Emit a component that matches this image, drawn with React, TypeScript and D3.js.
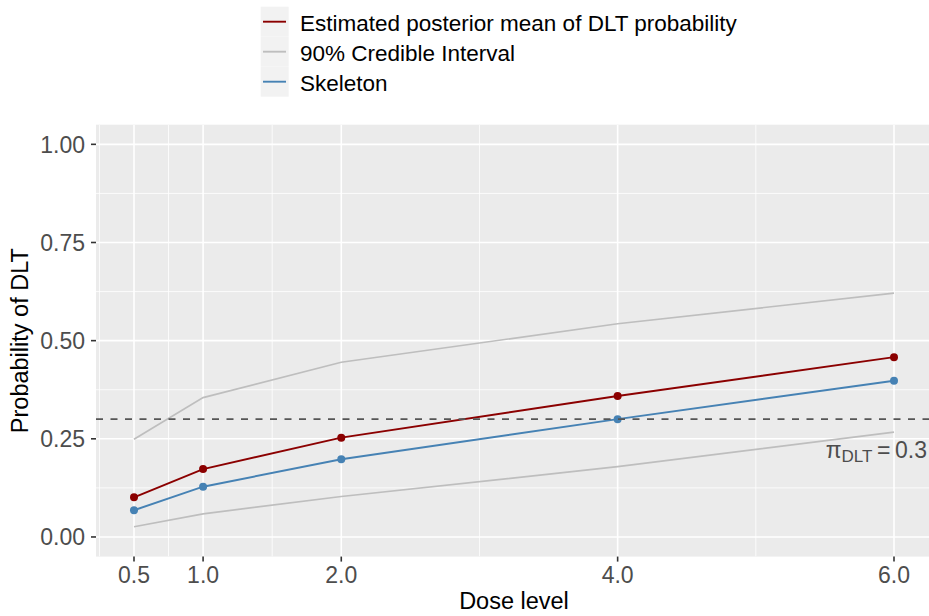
import React, { useEffect } from "react";
import * as d3 from "d3";

const doses = [0.5, 1.0, 2.0, 4.0, 6.0];
const posteriorMean = [0.101, 0.173, 0.253, 0.359, 0.458];
const skeleton = [0.068, 0.128, 0.198, 0.3, 0.398];
const ciUpper = [0.249, 0.355, 0.445, 0.543, 0.621];
const ciLower = [0.026, 0.059, 0.103, 0.179, 0.267];
const xTicks = [0.5, 1.0, 2.0, 4.0, 6.0];
const xMinor = [0.25, 0.75, 1.5, 3.0, 5.0];
const yTicks = [0, 0.25, 0.5, 0.75, 1.0];
const yMinor = [0.125, 0.375, 0.625, 0.875];
const targetTox = 0.3;
const legendLabels = [
  "Estimated posterior mean of DLT probability",
  "90% Credible Interval",
  "Skeleton",
];
const legendColors = ["#8B0000", "#BEBEBE", "#4682B4"];

const W = 929;
const H = 616;
const FONT = "'Liberation Sans', Arial, Helvetica, sans-serif";

export default function App() {
  useEffect(() => {
    document.body.style.margin = "0";
  }, []);

  const panel = { left: 96, right: 932, top: 124.7, bottom: 556.6 };
  const xMin = 0.5 - 0.05 * 5.5;
  const xMax = 6.0 + 0.05 * 5.5;
  const x = d3.scaleLinear().domain([xMin, xMax]).range([panel.left, panel.right]);
  const y = d3.scaleLinear().domain([-0.05, 1.05]).range([panel.bottom, panel.top]);

  const line = d3
    .line<number>()
    .x((_, i) => x(doses[i]))
    .y((d) => y(d));

  const red = legendColors[0];
  const grey = legendColors[1];
  const blue = legendColors[2];

  return (
    <svg
      width={W}
      height={H}
      style={{ position: "absolute", left: 0, top: 0, background: "#fff" }}
      fontFamily={FONT}
    >
      <defs>
        <clipPath id="panelClip">
          <rect x={panel.left} y={panel.top} width={panel.right - panel.left} height={panel.bottom - panel.top} />
        </clipPath>
      </defs>
      {/* panel background */}
      <rect
        x={panel.left}
        y={panel.top}
        width={panel.right - panel.left}
        height={panel.bottom - panel.top}
        fill="#EBEBEB"
      />
      <g clipPath="url(#panelClip)">
        {yMinor.map((v) => (
          <line key={"ym" + v} x1={panel.left} x2={panel.right} y1={y(v)} y2={y(v)} stroke="#fff" strokeWidth={0.8} />
        ))}
        {xMinor.map((v) => (
          <line key={"xm" + v} y1={panel.top} y2={panel.bottom} x1={x(v)} x2={x(v)} stroke="#fff" strokeWidth={0.8} />
        ))}
        {yTicks.map((v) => (
          <line key={"yM" + v} x1={panel.left} x2={panel.right} y1={y(v)} y2={y(v)} stroke="#fff" strokeWidth={1.6} />
        ))}
        {xTicks.map((v) => (
          <line key={"xM" + v} y1={panel.top} y2={panel.bottom} x1={x(v)} x2={x(v)} stroke="#fff" strokeWidth={1.6} />
        ))}

        <path d={line(ciUpper) || ""} fill="none" stroke={grey} strokeWidth={1.7} />
        <path d={line(ciLower) || ""} fill="none" stroke={grey} strokeWidth={1.7} />
        <path d={line(skeleton) || ""} fill="none" stroke={blue} strokeWidth={1.9} />
        {skeleton.map((v, i) => (
          <circle key={"s" + i} cx={x(doses[i])} cy={y(v)} r={4} fill={blue} />
        ))}
        <path d={line(posteriorMean) || ""} fill="none" stroke={red} strokeWidth={1.9} />
        {posteriorMean.map((v, i) => (
          <circle key={"p" + i} cx={x(doses[i])} cy={y(v)} r={4} fill={red} />
        ))}
        <line
          x1={panel.left}
          x2={panel.right}
          y1={y(targetTox)}
          y2={y(targetTox)}
          stroke="#555555"
          strokeWidth={1.8}
          strokeDasharray="7,7.5"
        />
      </g>
      <text x={927} y={458.3} textAnchor="end" fill="#4D4D4D" fontSize={23}>
        <tspan>π</tspan>
        <tspan fontSize={17} dy={3.5}>DLT</tspan>
        <tspan dy={-3.5}>{"\u2009=\u20090.3"}</tspan>
      </text>

      {/* y axis */}
      {yTicks.map((v) => (
        <g key={"yt" + v}>
          <line x1={panel.left - 5} x2={panel.left} y1={y(v)} y2={y(v)} stroke="#333333" strokeWidth={1.6} />
          <text x={85} y={y(v)} dy="0.36em" textAnchor="end" fill="#4D4D4D" fontSize={23}>
            {d3.format(".2f")(v)}
          </text>
        </g>
      ))}
      {/* x axis */}
      {xTicks.map((v) => (
        <g key={"xt" + v}>
          <line x1={x(v)} x2={x(v)} y1={panel.bottom} y2={panel.bottom + 5} stroke="#333333" strokeWidth={1.6} />
          <text x={x(v)} y={583} textAnchor="middle" fill="#4D4D4D" fontSize={23}>
            {d3.format(".1f")(v)}
          </text>
        </g>
      ))}
      <text x={(panel.left + panel.right) / 2} y={609} textAnchor="middle" fill="#000" fontSize={23.5}>
        Dose level
      </text>
      <text
        transform={`translate(${28},${(panel.top + panel.bottom) / 2}) rotate(-90)`}
        textAnchor="middle"
        fill="#000"
        fontSize={23.5}
      >
        Probability of DLT
      </text>

      {/* legend */}
      {legendLabels.map((lab, i) => (
        <g key={"lg" + i} transform={`translate(0, ${6.7 + i * 30})`}>
          <rect x={260.7} y={0} width={28} height={30} fill="#F2F2F2" />
          <line x1={263} x2={286} y1={15} y2={15} stroke={legendColors[i]} strokeWidth={1.9} />
          <text x={300} y={24.3} fill="#000" fontSize={22.5}>
            {lab}
          </text>
        </g>
      ))}
    </svg>
  );
}
